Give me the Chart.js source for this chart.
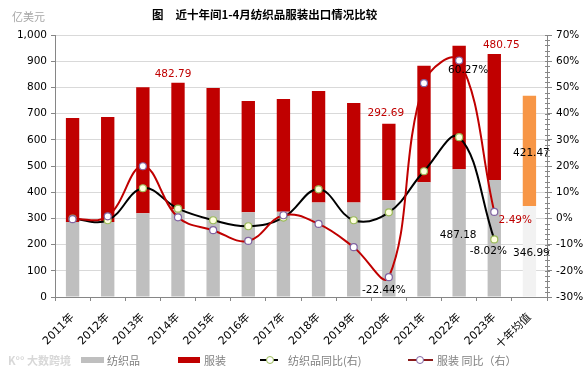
<!DOCTYPE html>
<html><head><meta charset="utf-8">
<script src="https://cdn.jsdelivr.net/npm/chart.js@4"></script>
<style>
html,body{margin:0;padding:0;background:#fff;}
#wrap{position:relative;width:586px;height:373px;font-family:"DejaVu Sans","Noto Sans CJK SC",sans-serif;}
canvas{position:absolute;left:0;top:0;}
.t{position:absolute;white-space:nowrap;}
#title{left:152px;top:6px;font-size:11.5px;font-weight:bold;color:#000;font-family:"Noto Sans CJK SC",sans-serif;}
#unit{left:12px;top:8px;font-size:11px;color:#a6a6a6;font-family:"Noto Sans CJK SC",sans-serif;}
.lg{position:absolute;top:352px;font-size:11px;color:#808080;font-family:"Noto Sans CJK SC",sans-serif;line-height:16px;}
.sw{position:absolute;}
#wm{left:8px;top:352px;font-size:11px;color:#d8d8d8;font-weight:bold;font-family:"Noto Sans CJK SC",sans-serif;line-height:16px;}
</style></head>
<body><div id="wrap">
<canvas id="c" width="586" height="373"></canvas>
<div class="t" id="title">图<span style="display:inline-block;width:12px"></span>近十年间1-4月纺织品服装出口情况比较</div>
<div class="t" id="unit">亿美元</div>
<div class="t" id="wm">K°° 大数跨境</div>
<div class="sw" style="left:81px;top:357px;width:23px;height:6px;background:#BFBFBF"></div>
<div class="lg" style="left:107px">纺织品</div>
<div class="sw" style="left:178px;top:357px;width:22px;height:6px;background:#C00000"></div>
<div class="lg" style="left:204px">服装</div>
<div class="sw" style="left:260px;top:359px;width:18px;height:2px;background:#000"></div>
<div class="sw" style="left:266px;top:356px;width:6px;height:6px;border:1px solid #9BBB59;border-radius:50%;background:#fff"></div>
<div class="lg" style="left:288px">纺织品同比(右)</div>
<div class="sw" style="left:408px;top:359px;width:25px;height:2px;background:#8B1A1A"></div>
<div class="sw" style="left:416px;top:356px;width:6px;height:6px;border:1px solid #8064A2;border-radius:50%;background:#fff"></div>
<div class="lg" style="left:437px">服装 同比（右）</div>
</div>
<script>
const categories = ["2011年","2012年","2013年","2014年","2015年","2016年","2017年","2018年","2019年","2020年","2021年","2022年","2023年","十年均值"];
const textileValues  = [286, 286, 320, 335, 331, 323, 325, 361, 361, 369, 438, 487.18, 447, 346.99];
const apparelValues  = [397, 401, 481, 482.79, 467, 425, 431, 425, 379, 292.69, 445, 472, 480.75, 421.47];
const textileGrowth  = [-0.1, -0.7, 11.5, 3.7, -0.7, -3.0, 0.3, 11.1, -0.7, 2.3, 18.0, 31.0, -8.02, null];
const apparelGrowth  = [-0.3, 0.8, 19.9, 0.4, -4.5, -8.6, 1.2, -2.1, -11.0, -22.44, 51.6, 60.27, 2.49, null];
const leftTicks  = {min:0, max:1000, step:100};
const rightTicks = {min:-30, max:70, step:10};

const n = categories.length;
const textileColors = categories.map((c,i)=> i===n-1 ? '#F2F2F2' : '#BFBFBF');
const apparelColors = categories.map((c,i)=> i===n-1 ? '#F79646' : '#C00000');

const labelSpecs = [
  {ds:1, i:3,  mode:'top',  color:'#C00000', dx:-5, dy:-8, text: apparelValues[3].toFixed(2)},
  {ds:1, i:9,  mode:'top',  color:'#C00000', dx:-3, dy:-10, text: apparelValues[9].toFixed(2)},
  {ds:1, i:12, mode:'top',  color:'#C00000', dx:7, dy:-9, text: apparelValues[12].toFixed(2)},
  {ds:0, i:11, mode:'mid',  color:'#000', dx:-1, dy:2, text: textileValues[11].toFixed(2)},
  {ds:1, i:13, mode:'mid',  color:'#000', dx:2, dy:2, text: apparelValues[13].toFixed(2)},
  {ds:0, i:13, mode:'mid',  color:'#000', dx:2, dy:2, text: textileValues[13].toFixed(2)},
  {ds:2, i:12, mode:'pt',   color:'#000', dx:-6, dy:12, text: textileGrowth[12].toFixed(2)+'%'},
  {ds:3, i:12, mode:'pt',   color:'#C00000', dx:21, dy:8, text: apparelGrowth[12].toFixed(2)+'%'},
  {ds:3, i:11, mode:'pt',   color:'#000', dx:9, dy:10, text: apparelGrowth[11].toFixed(2)+'%'},
  {ds:3, i:9,  mode:'pt',   color:'#000', dx:-5, dy:13, text: apparelGrowth[9].toFixed(2)+'%'}
];

const labelPlugin = {
  id:'labels',
  afterDatasetsDraw(chart){
    const ctx = chart.ctx;
    ctx.save();
    ctx.font = '10.5px "DejaVu Sans"';
    ctx.textAlign='center'; ctx.textBaseline='middle';
    labelSpecs.forEach(s=>{
      const el = chart.getDatasetMeta(s.ds).data[s.i];
      let x = el.x, y = el.y;
      if(s.mode==='mid') y = (el.y + el.base)/2;
      ctx.fillStyle = s.color;
      ctx.fillText(s.text, x + s.dx, y + s.dy);
    });
    const r = chart.scales.y1;
    ctx.strokeStyle = '#868686'; ctx.lineWidth = 1;
    for(let v=rightTicks.min; v<=rightTicks.max; v+=2){
      const py = Math.round(r.getPixelForValue(v))+0.5;
      ctx.beginPath(); ctx.moveTo(r.left-2, py); ctx.lineTo(r.left+3, py); ctx.stroke();
    }
    ctx.restore();
  }
};

const fontTick = {family:'"DejaVu Sans","Noto Sans CJK SC"', size:10.5};

new Chart(document.getElementById('c'), {
  type:'bar',
  data:{
    labels: categories,
    datasets:[
      {type:'bar', label:'纺织品', data:textileValues, backgroundColor:textileColors, yAxisID:'y', order:2, barPercentage:0.38, categoryPercentage:1},
      {type:'bar', label:'服装', data:apparelValues, backgroundColor:apparelColors, yAxisID:'y', order:2, barPercentage:0.38, categoryPercentage:1},
      {type:'line', label:'纺织品同比(右)', data:textileGrowth, yAxisID:'y1', order:1, borderColor:'#000', borderWidth:2, tension:0.4,
        pointRadius:3.5, pointBackgroundColor:'#FFFFE0', pointBorderColor:'#9BBB59', pointBorderWidth:1.2},
      {type:'line', label:'服装 同比（右）', data:apparelGrowth, yAxisID:'y1', order:0, borderColor:'#C00000', borderWidth:2, tension:0.4,
        pointRadius:3.5, pointBackgroundColor:'#FFFFFF', pointBorderColor:'#8064A2', pointBorderWidth:1.2}
    ]
  },
  options:{
    responsive:false, animation:false,
    layout:{padding:{top:35, bottom:26, left:0, right:0}},
    plugins:{legend:{display:false}, tooltip:{enabled:false}, title:{display:false}},
    scales:{
      x:{stacked:true,
        grid:{offset:true, drawOnChartArea:false, tickLength:4, color:'#868686'},
        border:{color:'#868686'},
        ticks:{minRotation:45, maxRotation:45, font:{family:'"DejaVu Sans","Noto Sans CJK SC"', size:11}, color:'#000', padding:10, autoSkip:false},
        afterFit(s){ s.height = 50; }
      },
      y:{stacked:true, position:'left', min:leftTicks.min, max:leftTicks.max,
        ticks:{stepSize:leftTicks.step, font:fontTick, color:'#000', padding:4,
          callback:v=> v.toLocaleString('en-US')},
        grid:{color:'#D9D9D9', tickLength:4, tickColor:'#868686'},
        border:{color:'#868686'},
        afterFit(s){ s.width = 55; }
      },
      y1:{stacked:false, position:'right', min:rightTicks.min, max:rightTicks.max,
        ticks:{stepSize:rightTicks.step, font:fontTick, color:'#000', padding:4, callback:v=> v+'%'},
        grid:{drawOnChartArea:false, tickLength:5, color:'#868686'},
        border:{color:'#868686'},
        afterFit(s){ s.width = 39; }
      }
    }
  },
  plugins:[labelPlugin]
});
</script>
</body></html>
